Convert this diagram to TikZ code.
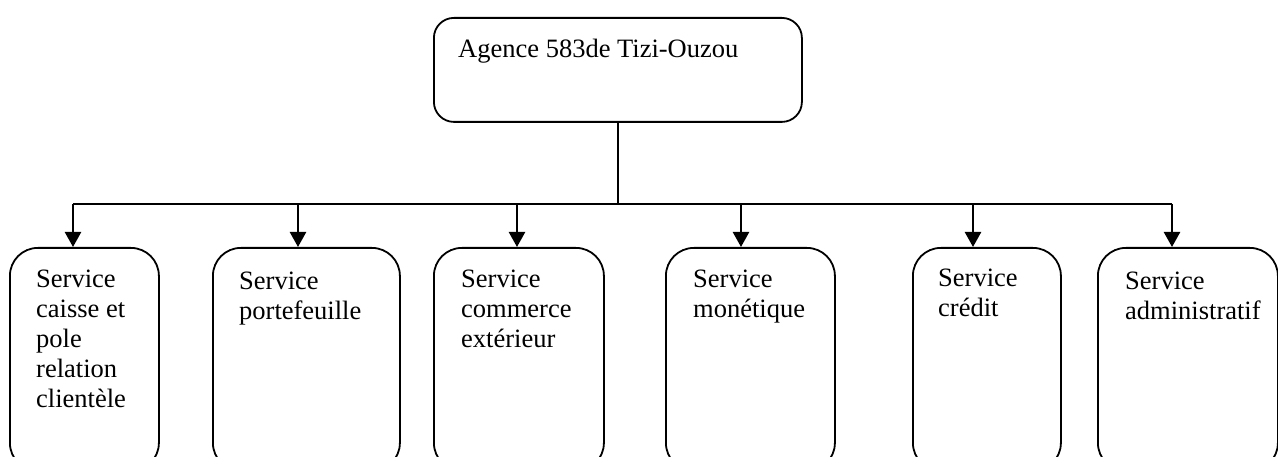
\documentclass[tikz,border=0pt]{standalone}
\usepackage{fontspec}
\setmainfont{Liberation Serif}
\usetikzlibrary{arrows.meta}
\begin{document}
\begin{tikzpicture}[x=1pt,y=-1pt,
  headbox/.style={draw, line width=1.8pt, rounded corners=20pt, anchor=north west, inner sep=0pt},
  unitbox/.style={draw, line width=1.8pt, rounded corners=28pt, anchor=north west, inner sep=0pt, minimum height=223pt},
  caption/.style={anchor=north west, inner sep=0pt, align=left, font=\fontsize{26.5pt}{30pt}\selectfont},
  link/.style={line width=1.8pt},
  feed/.style={line width=2.4pt, -{Triangle[width=16pt,length=15pt]}}]
  \path[use as bounding box] (0,0) rectangle (1278,457);
  \clip (0,0) rectangle (1278,457);

  % head office
  \node[headbox, minimum width=368pt, minimum height=104pt] (agence) at (433,17) {};
  \node[caption] (tagence) at (458,39) {Agence 583de Tizi-Ouzou};

  % services
  \node[unitbox, minimum width=149pt] (b1) at (9,247) {};
  \node[unitbox, minimum width=187pt] (b2) at (212,247) {};
  \node[unitbox, minimum width=170pt] (b3) at (433,247) {};
  \node[unitbox, minimum width=169pt] (b4) at (665,247) {};
  \node[unitbox, minimum width=148pt] (b5) at (912,247) {};
  \node[unitbox, minimum width=180pt] (b6) at (1097,247) {};

  \node[caption] (t1) at (36,270) {Service\\caisse et\\pole\\relation\\clientèle};
  \node[caption] (t2) at (239,272) {Service\\portefeuille};
  \node[caption] (t3) at (461,270) {Service\\commerce\\extérieur};
  \node[caption] (t4) at (693,270) {Service\\monétique};
  \node[caption] (t5) at (938,269) {Service\\crédit};
  \node[caption] (t6) at (1125,272) {Service\\administratif};

  % distribution bus
  \coordinate (j0) at (618,204);
  \coordinate (j1) at (73,204);
  \coordinate (j2) at (298,204);
  \coordinate (j3) at (517,204);
  \coordinate (j4) at (741,204);
  \coordinate (j5) at (973,204);
  \coordinate (j6) at (1172,204);

  \draw[link] (agence.south) -- (j0);
  \draw[link] (j1) -- (j6);
  \draw[feed] (j1) -- (j1 |- b1.north);
  \draw[feed] (j2) -- (j2 |- b2.north);
  \draw[feed] (j3) -- (j3 |- b3.north);
  \draw[feed] (j4) -- (j4 |- b4.north);
  \draw[feed] (j5) -- (j5 |- b5.north);
  \draw[feed] (j6) -- (j6 |- b6.north);
\end{tikzpicture}
\end{document}
